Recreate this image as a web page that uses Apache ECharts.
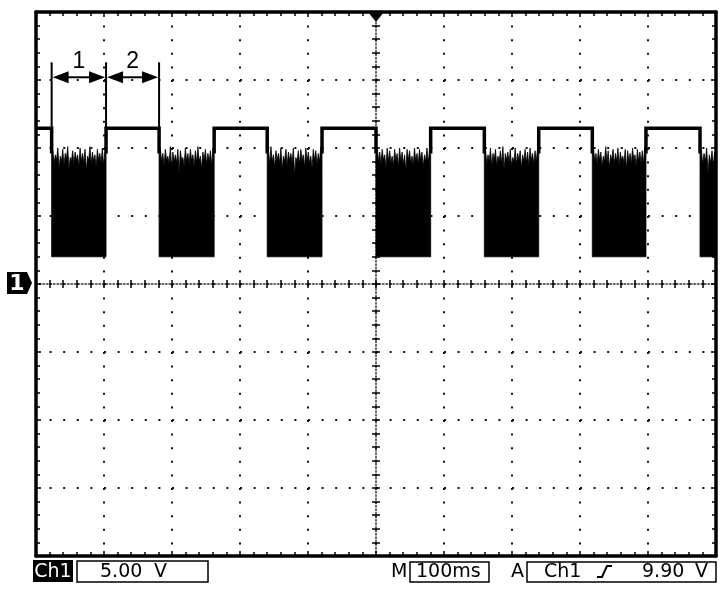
<!DOCTYPE html>
<html><head><meta charset="utf-8">
<script src="https://cdn.jsdelivr.net/npm/echarts@6/dist/echarts.min.js"></script>
<style>html,body{margin:0;padding:0;background:#fff}#c{width:726px;height:598px}</style>
</head><body><div id="c"></div>
<script>
// ---- axis setup (time in ms relative to trigger, volts) ----
const xMin = -500, xMax = 500, xInterval = 100;   // 100 ms/div, 10 div
const yMin = -20, yMax = 20, yInterval = 5;       // 5 V/div, 8 div

// ---- waveform levels (V) ----
const highLevel = 11.45;
const edgeLevel = 9.6;
const burstLow = 2.0;

// high segments (ms)
const highStart = [-500, -397, -238, -79.4, 80.4, 239.3, 397];
const highEnd   = [-477, -319, -160, 0, 159.3, 318.1, 476.5];

// noisy bursts (ms)
const burstStart = [-477, -319, -160, 0, 159.3, 318.1, 476.5];
const burstEnd   = [-397, -238, -79.4, 80.4, 239.3, 397, 500];

// burst top fringe: spike peaks and valleys (V)
const peaks1 = [9.8,9.5,10.0,9.4,9.9,9.6,10.1,9.3,9.8,9.7,9.5,10.0,9.6,9.9,9.4,10.1,9.7,9.5,9.9,9.6,10.0,9.7];
const valleys1 = [8.9,9.1,8.5,9.0,8.7,9.2,8.4,9.0,8.8,9.1,8.6,9.0,8.9,8.3,9.1,8.8,9.0,8.6,9.1,8.9,8.7];
const peaks2 = [10.0,9.6,9.9,9.4,10.1,9.7,9.5,9.9,9.8,9.3,10.0,9.6,9.9,9.5,9.8,10.1,9.4,9.7,9.9,9.6,9.8,10.0];
const valleys2 = [9.0,8.7,9.1,8.8,8.5,9.0,8.9,8.2,9.1,8.7,9.0,8.8,9.1,8.6,8.9,9.0,8.5,9.1,8.8,9.0,8.7];
const peaks3 = [9.9,10.1,9.5,9.8,9.6,10.0,9.4,9.9,9.7,9.6,10.0,9.3,9.8,9.9,9.5,10.0,9.7,9.4,9.9,9.8,9.6,10.1];
const valleys3 = [8.8,9.0,8.6,9.1,8.9,8.4,9.0,8.7,9.1,8.9,8.0,9.0,8.8,9.1,8.6,9.0,8.9,8.5,9.1,8.8,9.0];
const peaks4 = [10.1,9.7,9.9,9.5,10.0,9.8,9.4,9.9,9.6,10.0,9.7,9.5,9.9,9.8,9.4,10.0,9.6,9.9,9.7,9.5,10.0,9.8];
const valleys4 = [9.0,8.8,9.1,8.5,9.0,8.9,8.7,9.1,8.6,9.0,8.8,8.3,9.1,8.9,8.7,9.0,8.8,9.1,8.6,9.0,8.9];
const peaks5 = [9.8,9.5,10.0,9.6,9.9,9.4,9.8,10.1,9.6,9.7,9.9,9.3,10.0,9.6,9.8,9.5,9.9,9.7,10.0,9.6,9.8,9.9];
const valleys5 = [8.9,9.0,8.6,9.1,8.7,9.0,8.8,8.4,9.1,8.9,8.6,9.0,8.8,9.1,8.5,9.0,8.9,8.7,9.1,8.8,9.0];
const peaks6 = [10.0,9.6,9.9,9.7,9.4,10.1,9.8,9.5,9.9,9.6,10.0,9.7,9.4,9.9,9.8,9.6,10.0,9.5,9.9,9.7,9.8,10.1];
const valleys6 = [9.0,8.8,9.1,8.6,9.0,8.9,8.5,9.1,8.8,9.0,8.7,9.1,8.9,8.4,9.0,8.8,9.1,8.6,9.0,8.9,8.8];
const peaks7 = [9.9,9.6,10.0,9.5,9.8,9.7];
const valleys7 = [8.8,9.0,8.2,8.9,8.7];
const burstPeaks = [peaks1, peaks2, peaks3, peaks4, peaks5, peaks6, peaks7];
const burstValleys = [valleys1, valleys2, valleys3, valleys4, valleys5, valleys6, valleys7];

// cursors
const cursorTimes = [-477, -397, -319];
const cursorTop = 16.3;
const arrowLevel = 15.2;
const cursorLabels = ['1', '2'];

// markers
const triggerTime = 0;
const groundLevel = 0;
const groundLabel = '1';

// status bar texts
const chLabel = 'Ch1';
const voltsPerDiv = '5.00';
const voltUnit = 'V';
const timeLabel = 'M';
const timePerDiv = '100ms';
const trigLabel = 'A';
const trigSource = 'Ch1';
const trigLevel = '9.90';

const BLACK = '#000';
const gridRect = {left: 36, right: 10, top: 12, bottom: 42, outerBoundsMode: 'none'};

function frameX(pos, split) {
  return {
    type: 'value', gridIndex: 0, min: xMin, max: xMax, interval: xInterval, position: pos,
    axisLine: {show: true, onZero: false, lineStyle: {color: BLACK, width: 3.5}},
    axisTick: {show: true, inside: true, length: 5, lineStyle: {color: BLACK, width: 1.5}},
    minorTick: {show: true, splitNumber: 5, length: 4, lineStyle: {color: BLACK, width: 1.5}},
    axisLabel: {show: false},
    splitLine: {show: split, lineStyle: {color: '#111', width: 2, type: [2, 11.6]}},
    minorSplitLine: {show: false}
  };
}
function frameY(pos, split) {
  return {
    type: 'value', gridIndex: 0, min: yMin, max: yMax, interval: yInterval, position: pos,
    axisLine: {show: true, onZero: false, lineStyle: {color: BLACK, width: 3.5}},
    axisTick: {show: true, inside: true, length: 5, lineStyle: {color: BLACK, width: 1.5}},
    minorTick: {show: true, splitNumber: 5, length: 4, lineStyle: {color: BLACK, width: 1.5}},
    axisLabel: {show: false},
    splitLine: {show: split, lineStyle: {color: '#111', width: 2, type: [2, 11.6]}},
    minorSplitLine: {show: false}
  };
}
function centerAxis(kind, gi, inside, showLine) {
  return {
    type: 'value', gridIndex: gi, position: kind === 'x' ? 'bottom' : 'left',
    min: kind === 'x' ? xMin : yMin, max: kind === 'x' ? xMax : yMax,
    interval: kind === 'x' ? xInterval : yInterval,
    axisLine: {show: showLine, onZero: true, lineStyle: {color: '#333', width: 1.5, type: [1.5, 2]}},
    axisTick: {show: true, inside: inside, length: 4, lineStyle: {color: BLACK, width: 1.5}},
    minorTick: {show: true, splitNumber: 5, length: 4, lineStyle: {color: BLACK, width: 1.5}},
    axisLabel: {show: false},
    splitLine: {show: false},
    minorSplitLine: {show: false}
  };
}

const chart = echarts.init(document.getElementById('c'), null, {renderer: 'canvas'});

const font19 = '19px "DejaVu Sans"';
const statusY = 572;

chart.setOption({
  animation: false,
  backgroundColor: '#fff',
  grid: [gridRect, gridRect, gridRect],
  xAxis: [frameX('bottom', true), frameX('top', false), centerAxis('x', 1, true, true), centerAxis('x', 2, false, false)],
  yAxis: [frameY('left', true), frameY('right', false), centerAxis('y', 1, true, true), centerAxis('y', 2, false, false)],
  series: [
    {
      type: 'custom', name: 'bursts', xAxisIndex: 0, yAxisIndex: 0, clip: false, z: 5,
      data: burstStart.map((s, i) => [s, burstEnd[i], burstLow, i]),
      encode: {x: [0, 1], y: 2},
      renderItem(params, api) {
        const s = api.value(0), e = api.value(1), i = api.value(3);
        const pk = burstPeaks[i], vl = burstValleys[i];
        const n = pk.length, step = (e - s) / n;
        const pts = [api.coord([s, burstLow]), api.coord([s, pk[0]])];
        for (let k = 0; k < n; k++) {
          pts.push(api.coord([s + (k + 0.5) * step, pk[k]]));
          if (k < n - 1) pts.push(api.coord([s + (k + 1) * step, vl[k]]));
        }
        pts.push(api.coord([e, pk[n - 1]]), api.coord([e, burstLow]));
        return {type: 'polygon', shape: {points: pts}, style: {fill: BLACK, stroke: BLACK, lineWidth: 0.8}};
      }
    },
    {
      type: 'custom', name: 'high', xAxisIndex: 0, yAxisIndex: 0, clip: false, z: 6,
      data: highStart.map((a, i) => [a, highEnd[i], highLevel]),
      encode: {x: [0, 1], y: 2},
      renderItem(params, api) {
        const a = api.value(0), b = api.value(1);
        const pts = [];
        if (a > xMin) pts.push(api.coord([a, edgeLevel]));
        pts.push(api.coord([a, highLevel]), api.coord([b, highLevel]));
        if (b < xMax) pts.push(api.coord([b, edgeLevel]));
        return {type: 'polyline', shape: {points: pts}, style: {stroke: BLACK, lineWidth: 3.5, fill: 'none'}};
      }
    },
    {
      type: 'custom', name: 'cursorLines', xAxisIndex: 0, yAxisIndex: 0, clip: false, z: 7,
      data: cursorTimes.map(t => [t, cursorTop, highLevel]),
      encode: {x: 0, y: [1, 2]},
      renderItem(params, api) {
        const p0 = api.coord([api.value(0), api.value(1)]);
        const p1 = api.coord([api.value(0), api.value(2)]);
        return {type: 'line', shape: {x1: p0[0], y1: p0[1], x2: p1[0], y2: p1[1]}, style: {stroke: BLACK, lineWidth: 2}};
      }
    },
    {
      type: 'custom', name: 'cursorArrows', xAxisIndex: 0, yAxisIndex: 0, clip: false, z: 7,
      data: cursorLabels.map((l, i) => [cursorTimes[i], cursorTimes[i + 1], arrowLevel, i]),
      encode: {x: [0, 1], y: 2},
      renderItem(params, api) {
        const i = api.value(3);
        const p0 = api.coord([api.value(0), api.value(2)]);
        const p1 = api.coord([api.value(1), api.value(2)]);
        const hl = 16, hw = 6;
        const x0 = p0[0] + 1, x1 = p1[0] - 1, y = p0[1];
        return {type: 'group', children: [
          {type: 'line', shape: {x1: x0 + hl - 1, y1: y, x2: x1 - hl + 1, y2: y}, style: {stroke: BLACK, lineWidth: 2}},
          {type: 'polygon', shape: {points: [[x0, y], [x0 + hl, y - hw], [x0 + hl, y + hw]]}, style: {fill: BLACK}},
          {type: 'polygon', shape: {points: [[x1, y], [x1 - hl, y - hw], [x1 - hl, y + hw]]}, style: {fill: BLACK}},
          {type: 'text', style: {text: cursorLabels[i], x: (x0 + x1) / 2, y: y - 4, align: 'center', verticalAlign: 'bottom', font: '23px "Liberation Sans"', fill: BLACK}}
        ]};
      }
    },
    {
      type: 'custom', name: 'trigger', xAxisIndex: 0, yAxisIndex: 0, clip: false, z: 8,
      data: [[triggerTime, yMax]],
      renderItem(params, api) {
        const p = api.coord([api.value(0), api.value(1)]);
        return {type: 'polygon', shape: {points: [[p[0] - 8, p[1]], [p[0] + 8, p[1]], [p[0], p[1] + 10]]}, style: {fill: BLACK}};
      }
    },
    {
      type: 'custom', name: 'ground', xAxisIndex: 0, yAxisIndex: 0, clip: false, z: 8,
      data: [[xMin, groundLevel]],
      renderItem(params, api) {
        const p = api.coord([api.value(0), api.value(1)]);
        const x = p[0], y = p[1] - 1;
        return {type: 'group', children: [
          {type: 'polygon', shape: {points: [[x - 29, y - 11], [x - 9, y - 11], [x - 4, y], [x - 9, y + 11], [x - 29, y + 11]]}, style: {fill: BLACK}},
          {type: 'text', style: {text: groundLabel, x: x - 19, y: y + 1, align: 'center', verticalAlign: 'middle', font: 'bold 22px "DejaVu Sans"', fill: '#fff'}}
        ]};
      }
    }
  ],
  graphic: [
    {type: 'rect', shape: {x: 33, y: 560, width: 40, height: 22}, style: {fill: BLACK}},
    {type: 'text', style: {text: chLabel, x: 53, y: statusY, align: 'center', verticalAlign: 'middle', font: font19, fill: '#fff'}},
    {type: 'rect', shape: {x: 77, y: 561, width: 131, height: 21}, style: {fill: '#fff', stroke: BLACK, lineWidth: 1.5}},
    {type: 'text', style: {text: voltsPerDiv, x: 100, y: statusY, align: 'left', verticalAlign: 'middle', font: font19, fill: BLACK}},
    {type: 'text', style: {text: voltUnit, x: 154, y: statusY, align: 'left', verticalAlign: 'middle', font: font19, fill: BLACK}},
    {type: 'text', style: {text: timeLabel, x: 391, y: statusY, align: 'left', verticalAlign: 'middle', font: font19, fill: BLACK}},
    {type: 'rect', shape: {x: 410, y: 562, width: 79, height: 20}, style: {fill: '#fff', stroke: BLACK, lineWidth: 1.5}},
    {type: 'text', style: {text: timePerDiv, x: 416, y: statusY, align: 'left', verticalAlign: 'middle', font: font19, fill: BLACK}},
    {type: 'text', style: {text: trigLabel, x: 511, y: statusY, align: 'left', verticalAlign: 'middle', font: font19, fill: BLACK}},
    {type: 'rect', shape: {x: 527, y: 562, width: 189, height: 20}, style: {fill: '#fff', stroke: BLACK, lineWidth: 1.5}},
    {type: 'text', style: {text: trigSource, x: 544, y: statusY, align: 'left', verticalAlign: 'middle', font: font19, fill: BLACK}},
    {type: 'polyline', shape: {points: [[597, 577], [602, 577], [607, 566], [612, 566]]}, style: {stroke: BLACK, lineWidth: 2, fill: 'none'}},
    {type: 'text', style: {text: trigLevel, x: 642, y: statusY, align: 'left', verticalAlign: 'middle', font: font19, fill: BLACK}},
    {type: 'text', style: {text: voltUnit, x: 695, y: statusY, align: 'left', verticalAlign: 'middle', font: font19, fill: BLACK}}
  ]
});
</script>
</body></html>
